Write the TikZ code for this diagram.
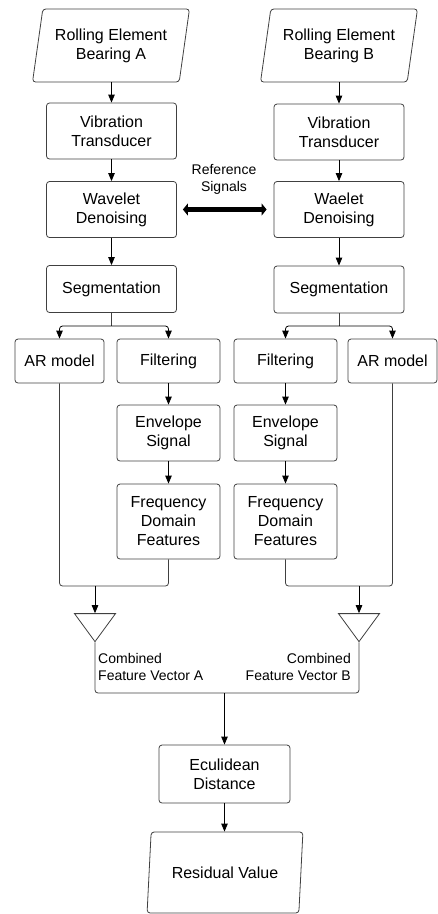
\documentclass[tikz,border=0pt]{standalone}
\usepackage{fontspec}
\setmainfont{Liberation Sans}
\usetikzlibrary{shapes.geometric,arrows.meta}
\begin{document}
\begin{tikzpicture}[x=1pt,y=-1pt,
    box/.style={draw=black!75, line width=0.8pt, rounded corners=3pt, inner sep=0pt, align=center,
        font=\fontsize{16}{19}\selectfont},
    para/.style={trapezium, trapezium left angle=76, trapezium right angle=104, trapezium stretches=true,
        draw=black!75, line width=0.8pt, rounded corners=3pt, inner sep=0pt, align=center,
        font=\fontsize{16}{19}\selectfont},
    tri/.style={isosceles triangle, isosceles triangle apex angle=72, shape border rotate=270,
        isosceles triangle stretches=true, draw=black!75, line width=0.8pt, inner sep=0pt,
        minimum width=41pt, minimum height=28pt},
    lab/.style={inner sep=0pt, font=\fontsize{14}{17}\selectfont},
    line/.style={draw=black!75, line width=0.8pt, rounded corners=3pt},
    arr/.style={line, -{Triangle[length=8pt,width=6.5pt]}, black},
    refarr/.style={line width=5pt, {Triangle[length=5pt,width=12pt]}-{Triangle[length=5pt,width=12pt]}}]
  \useasboundingbox (0,0) rectangle (437,914);
  % bearing A branch
  \node[para, minimum width=157pt, minimum height=73pt] (bearA) at (111,45.5) {Rolling Element\\Bearing A};
  \node[box, minimum width=130pt, minimum height=56pt] (vibA) at (111.5,131) {Vibration\\Transducer};
  \node[box, minimum width=130pt, minimum height=56pt] (wavA) at (111.5,209.5) {Wavelet\\Denoising};
  \node[box, minimum width=130pt, minimum height=47pt] (segA) at (111.5,289) {Segmentation};
  \node[box, minimum width=89pt, minimum height=44pt] (arA) at (59.5,361) {AR model};
  \node[box, minimum width=103pt, minimum height=44pt] (filA) at (168.5,361) {Filtering};
  \node[box, minimum width=103pt, minimum height=56pt] (envA) at (168.5,433) {Envelope\\Signal};
  \node[box, minimum width=103pt, minimum height=75pt] (freqA) at (168.5,521.5) {Frequency\\Domain\\Features};
  \node[tri] (triA) at (95,624) {};
  % bearing B branch
  \node[para, minimum width=157pt, minimum height=73pt] (bearB) at (339,45.5) {Rolling Element\\Bearing B};
  \node[box, minimum width=130pt, minimum height=56pt] (vibB) at (339,132) {Vibration\\Transducer};
  \node[box, minimum width=130pt, minimum height=56pt] (wavB) at (339,209.5) {Waelet\\Denoising};
  \node[box, minimum width=130pt, minimum height=47pt] (segB) at (339,289.5) {Segmentation};
  \node[box, minimum width=103pt, minimum height=44pt] (filB) at (285.5,361) {Filtering};
  \node[box, minimum width=89pt, minimum height=44pt] (arB) at (392.5,361) {AR model};
  \node[box, minimum width=103pt, minimum height=56pt] (envB) at (285.5,433) {Envelope\\Signal};
  \node[box, minimum width=103pt, minimum height=75pt] (freqB) at (285.5,521.5) {Frequency\\Domain\\Features};
  \node[tri] (triB) at (359,624) {};
  % common part
  \node[lab, align=center] (refsig) at (224,179) {Reference\\Signals};
  \node[lab, align=left, anchor=west] (labA) at (98,666.5) {Combined\\Feature Vector A};
  \node[lab, align=right, anchor=east] (labB) at (351,666.5) {Combined\\Feature Vector B};
  \node[box, minimum width=131pt, minimum height=58pt] (eucl) at (224.5,774) {Eculidean\\Distance};
  \node[para, minimum width=156pt, minimum height=81pt] (resid) at (225,872.5) {Residual Value};
  \coordinate (splitA) at (111.5,326);
  \coordinate (splitB) at (339,326);
  \coordinate (mergeA) at (95,586);
  \coordinate (mergeB) at (359,586);
  \coordinate (joinE) at (224.5,693);
  % connectors
  \draw[arr] (vibA.north |- bearA.south) -- (vibA.north);
  \draw[arr] (vibA.south) -- (wavA.north);
  \draw[arr] (wavA.south) -- (segA.north);
  \draw[line] (segA.south) -- (splitA);
  \draw[arr] (splitA) -| (arA.north);
  \draw[arr] (splitA) -| (filA.north);
  \draw[arr] (filA.south) -- (envA.north);
  \draw[arr] (envA.south) -- (freqA.north);
  \draw[line] (arA.south) |- (mergeA);
  \draw[line] (freqA.south) |- (mergeA);
  \draw[arr] (mergeA) -- (triA.north);
  \draw[arr] (vibB.north |- bearB.south) -- (vibB.north);
  \draw[arr] (vibB.south) -- (wavB.north);
  \draw[arr] (wavB.south) -- (segB.north);
  \draw[line] (segB.south) -- (splitB);
  \draw[arr] (splitB) -| (filB.north);
  \draw[arr] (splitB) -| (arB.north);
  \draw[arr] (filB.south) -- (envB.north);
  \draw[arr] (envB.south) -- (freqB.north);
  \draw[line] (freqB.south) |- (mergeB);
  \draw[line] (arB.south) |- (mergeB);
  \draw[arr] (mergeB) -- (triB.north);
  \draw[refarr, shorten <=6pt, shorten >=7pt] (wavA.east) -- (wavB.west);
  \draw[line] (triA.south) |- (joinE);
  \draw[line] (triB.south) |- (joinE);
  \draw[arr] (joinE) -- (eucl.north);
  \draw[arr] (eucl.south) -- (eucl.south |- resid.north);
\end{tikzpicture}
\end{document}
